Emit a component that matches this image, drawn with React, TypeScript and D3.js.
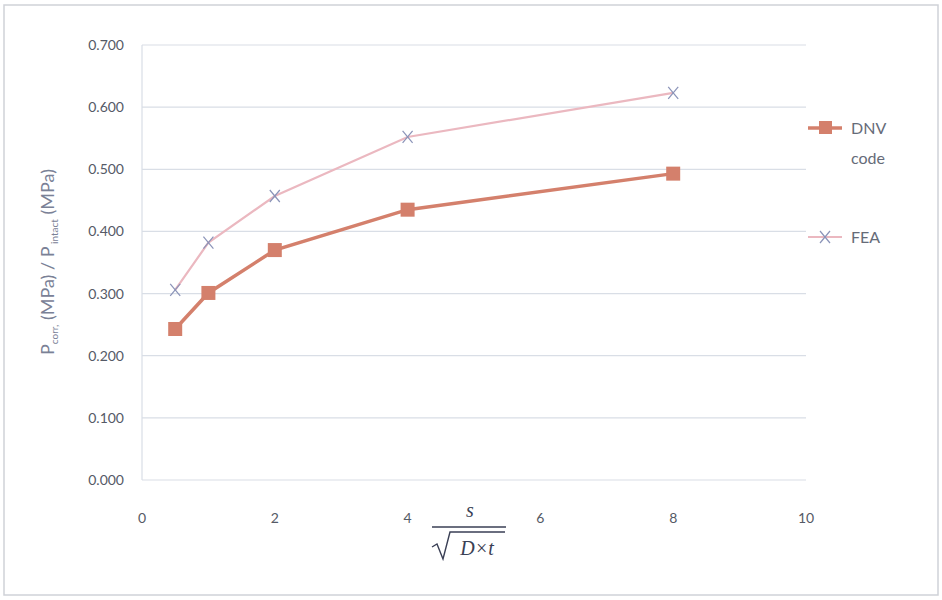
import React from "react";
import * as d3 from "d3";

const xValues = [0.5, 1, 2, 4, 8];
const dnvValues = [0.243, 0.301, 0.370, 0.435, 0.493];
const feaValues = [0.306, 0.382, 0.457, 0.552, 0.623];
const yTicks = [0, 0.1, 0.2, 0.3, 0.4, 0.5, 0.6, 0.7];
const xTicks = [0, 2, 4, 6, 8, 10];

const W = 942, H = 600;
const left = 142, right = 806, top = 45, bottom = 480;

export default function App() {
  const x = d3.scaleLinear().domain([0, 10]).range([left, right]);
  const y = d3.scaleLinear().domain([0, 0.7]).range([bottom, top]);
  const line = d3.line<number>().x((_, i) => x(xValues[i])).y((d) => y(d));
  const font = "Lato, 'Open Sans', sans-serif";
  const dnvColor = "#d4806c";
  const feaColor = "#ebb8c0";
  const xMark = "#8a93b8";
  return (
    <svg width={W} height={H} style={{ position: "absolute", left: 0, top: 0 }}>
      <rect x={0} y={0} width={W} height={H} fill="#ffffff" />
      <rect x={4} y={5} width={934} height={590} fill="none" stroke="#cfd2d8" strokeWidth={1.5} />
      {yTicks.map((t) => (
        <g key={t}>
          <line x1={left} x2={right} y1={y(t)} y2={y(t)} stroke="#d9dee6" strokeWidth={1.2} />
          <text x={124} y={y(t) + 5} textAnchor="end" fontSize={14} fill="#555a66" fontFamily={font}>
            {d3.format(".3f")(t)}
          </text>
        </g>
      ))}
      <line x1={left} x2={left} y1={top} y2={bottom} stroke="#d9dee6" strokeWidth={1.2} />
      {xTicks.map((t) => (
        <text key={t} x={x(t)} y={523} textAnchor="middle" fontSize={14} fill="#555a66" fontFamily={font}>
          {t}
        </text>
      ))}
      <path d={line(feaValues) || ""} fill="none" stroke={feaColor} strokeWidth={2.2} />
      {feaValues.map((v, i) => {
        const cx = x(xValues[i]), cy = y(v);
        return (
          <g key={i} stroke={xMark} strokeWidth={1.2}>
            <line x1={cx - 5} x2={cx + 5} y1={cy - 6} y2={cy + 6} />
            <line x1={cx - 5} x2={cx + 5} y1={cy + 6} y2={cy - 6} />
          </g>
        );
      })}
      <path d={line(dnvValues) || ""} fill="none" stroke={dnvColor} strokeWidth={3.5} />
      {dnvValues.map((v, i) => (
        <rect key={i} x={x(xValues[i]) - 7} y={y(v) - 7} width={14} height={14} fill={dnvColor} />
      ))}
      {/* Legend */}
      <line x1={808} x2={842} y1={128} y2={128} stroke={dnvColor} strokeWidth={3.5} />
      <rect x={819} y={121} width={13} height={13} fill={dnvColor} />
      <text x={851} y={134} fontSize={16} fill="#666b78" fontFamily={font}>DNV</text>
      <text x={851} y={164} fontSize={16} fill="#666b78" fontFamily={font}>code</text>
      <line x1={808} x2={842} y1={237} y2={237} stroke={feaColor} strokeWidth={2.2} />
      <g stroke={xMark} strokeWidth={1.2}>
        <line x1={820} x2={830} y1={231} y2={243} />
        <line x1={820} x2={830} y1={243} y2={231} />
      </g>
      <text x={851} y={243} fontSize={16} fill="#666b78" fontFamily={font}>FEA</text>
      {/* Y axis title */}
      <text transform="translate(54,262) rotate(-90)" textAnchor="middle" fontSize={18} fill="#7a8196" fontFamily={font}>
        <tspan>P</tspan>
        <tspan fontSize={10} dy={4}>corr,</tspan>
        <tspan dy={-4}> (MPa) /  P</tspan>
        <tspan fontSize={10} dy={4}> intact</tspan>
        <tspan dy={-4}> (MPa)</tspan>
      </text>
      {/* X axis title fraction */}
      <text x={470} y={517} textAnchor="middle" fontSize={20} fontStyle="italic" fill="#3a3f55" fontFamily="'Liberation Serif', serif">s</text>
      <line x1={432} x2={506} y1={527} y2={527} stroke="#3a3f55" strokeWidth={1.4} />
      <path d="M 432 547 L 437 544 L 443 559 L 450 532 L 505 532" fill="none" stroke="#3a3f55" strokeWidth={1.4} />
      <text x={477} y={555} textAnchor="middle" fontSize={20} fontStyle="italic" fill="#3a3f55" fontFamily="'Liberation Serif', serif">D×t</text>
    </svg>
  );
}
